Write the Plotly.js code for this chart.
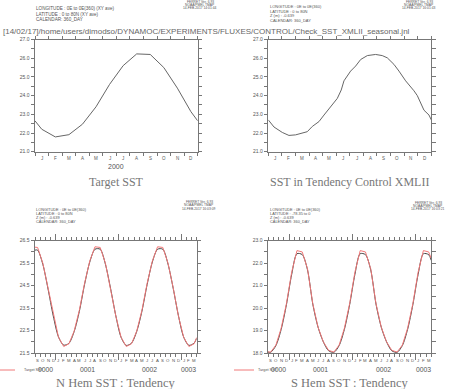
<!DOCTYPE html>
<html><head><meta charset="utf-8">
<script src="https://cdn.plot.ly/plotly-3.0.1.min.js"></script>
<style>html,body{margin:0;padding:0;background:#fff;overflow:hidden}</style>
</head><body><div id="chart" style="width:449px;height:389px"></div>
<script>
// ---------------- DATA ----------------
const topMonthLabels = ['J','F','M','A','M','J','J','A','S','O','N','D'];
const topMonthPos = [0.5,1.5,2.5,3.5,4.5,5.5,6.5,7.5,8.5,9.5,10.5,11.5];
const topYearLabel = '2000';

// Target SST (monthly, x in months from 1 Jan)
const targetX   = [0, 0.5, 1.5, 2.5, 3.5, 4.5, 5.5, 6.5, 7.5, 8.5, 9.5, 10.5, 11.5, 12];
const targetSST = [22.65, 22.2, 21.79, 21.91, 22.47, 23.4, 24.6, 25.6, 26.23, 26.2, 25.5, 24.4, 23.14, 22.65];

// SST in Tendency Control XMLII
const ctrlX   = [0, 0.42, 1.03, 1.52, 2.01, 2.55, 2.87, 3.24, 3.73, 4.10, 4.59, 5.08, 5.37, 5.57, 6.06, 6.43, 6.80, 7.29, 7.90, 8.39, 8.76, 9.25, 9.62, 10.11, 10.72, 10.97, 11.46, 11.83, 12];
const ctrlSST = [22.7, 22.32, 22.03, 21.87, 21.9, 22.0, 22.07, 22.35, 22.61, 22.96, 23.4, 23.85, 24.3, 24.79, 25.31, 25.58, 25.93, 26.14, 26.2, 26.14, 26.02, 25.67, 25.31, 24.79, 24.26, 24.0, 23.22, 22.96, 22.7];

// Bottom panels: months from 1 Sep 0000 (x = month centres, plus both edges)
const botMonthLabels = ['S','O','N','D','J','F','M','A','M','J','J','A','S','O','N','D','J','F','M','A','M','J','J','A','S','O','N','D','J','F','M'];
const botX = [0, 0.5,1.5,2.5,3.5,4.5,5.5,6.5,7.5,8.5,9.5,10.5,11.5,12.5,13.5,14.5,15.5,16.5,17.5,18.5,19.5,20.5,21.5,22.5,23.5,24.5,25.5,26.5,27.5,28.5,29.5,30.5, 31];
const botYearLabels = ['0000','0001','0002','0003'];
const botYearPos = [2, 10, 22, 29.5];

// N Hem
const nhTarget = [26.21, 26.2,25.5,24.4,23.14,22.2,21.79,21.91,22.47,23.4,24.6,25.6,26.23, 26.2,25.5,24.4,23.14,22.2,21.79,21.91,22.47,23.4,24.6,25.6,26.23, 26.2,25.5,24.4,23.14,22.2,21.79,21.91, 22.19];
const nhModel  = [26.08, 26.08,25.45,24.35,23.15,22.22,21.85,21.93,22.45,23.35,24.55,25.55,26.12, 26.12,25.45,24.36,23.15,22.2,21.84,21.94,22.46,23.36,24.55,25.55,26.12, 26.12,25.46,24.37,23.16,22.21,21.84,21.94, 22.15];
// S Hem
const shTarget = [18.05, 18.04,18.35,19.1,20.2,21.6,22.56,22.5,21.75,20.2,19.15,18.5,18.12, 18.04,18.35,19.1,20.2,21.6,22.56,22.5,21.75,20.2,19.15,18.5,18.12, 18.04,18.35,19.1,20.2,21.6,22.56,22.5, 22.2];
const shModel  = [18.04, 18.03,18.33,19.05,20.15,21.5,22.42,22.38,21.7,20.18,19.15,18.5,18.1, 18.03,18.33,19.05,20.15,21.5,22.42,22.38,21.7,20.18,19.15,18.5,18.1, 18.03,18.33,19.05,20.15,21.5,22.42,22.38, 22.12];

// Text
const pathHeader = '[14/02/17]/home/users/dimodso/DYNAMOC/EXPERIMENTS/FLUXES/CONTROL/Check_SST_XMLII_seasonal.jnl';
const hdrTL = ['LONGITUDE : 0E to 0E(360) (XY ave)','LATITUDE : 0 to 80N (XY ave)','CALENDAR: 360_DAY'];
const hdrTR = ['LONGITUDE : 0E to 0E(360)','LATITUDE : 0 to 80N','Z (m) : -0.639','CALENDAR: 360_DAY'];
const hdrBL = ['LONGITUDE : 0E to 0E(360)','LATITUDE : 0 to 80N','Z (m) : -0.639','CALENDAR: 360_DAY'];
const hdrBR = ['LONGITUDE : 0E to 0E(360)','LATITUDE : -78.35 to 0','Z (m) : -0.639','CALENDAR: 360_DAY'];
const ferretTL = ['FERRET Ver. 6.93','NOAA/PMEL TMAP','14-FEB-2017 14:01:44'];
const ferretTR = ['FERRET Ver. 6.93','NOAA/PMEL TMAP','14-FEB-2017 16:01:43'];
const ferretBL = ['FERRET Ver. 6.93','NOAA/PMEL TMAP','14-FEB-2017 16:03:09'];
const ferretBR = ['FERRET Ver. 6.93','NOAA/PMEL TMAP','14-FEB-2017 16:03:21'];
const titles = ['Target SST','SST in Tendency Control XMLII','N Hem SST : Tendency','S Hem SST : Tendency'];
const legendLabel = 'Target SST';

const topYTicks = [21,22,23,24,25,26,27];
const topYMinor = [21.5,22.5,23.5,24.5,25.5,26.5];
const nhYTicks = [21.5,22.5,23.5,24.5,25.5,26.5];
const nhYMinor = [22,23,24,25,26];
const shYTicks = [18,19,20,21,22,23];
const shYMinor = [18.5,19.5,20.5,21.5,22.5];

// ---------------- LAYOUT HELPERS ----------------
const W = 449, H = 389;
const px = v => v / W;
const py = v => 1 - v / H;
const AX = '#777', TXT = '#555';
const SANS = 'Liberation Sans, Arial, sans-serif';
const SERIF = 'Liberation Serif, Times New Roman, serif';

function yax(dom, range, majors, minors, anchor) {
  return {domain: dom, range: range, anchor: anchor, tickmode: 'array', tickvals: majors,
    ticktext: majors.map(v => v.toFixed(1)), ticks: 'outside', ticklen: 3.5, tickwidth: 1, tickcolor: AX,
    showline: true, linecolor: AX, linewidth: 1, mirror: 'ticks', showgrid: false, zeroline: false,
    tickfont: {size: 5, color: TXT, family: SANS},
    minor: {tickvals: minors, ticks: 'outside', ticklen: 3.5, tickcolor: AX, showgrid: false},
    fixedrange: true};
}
function xaxTop(dom, anchor) {
  return {domain: dom, range: [0, 12], anchor: anchor, tickmode: 'array',
    tickvals: [0,1,2,3,4,5,6,7,8,9,10,11,12], showticklabels: false, ticks: 'outside', ticklen: 3,
    tickcolor: AX, showline: true, linecolor: AX, linewidth: 1, mirror: 'ticks', showgrid: false,
    zeroline: false, fixedrange: true};
}
function xaxBot(dom, anchor) {
  const minors = []; for (let i = 0; i <= 31; i++) minors.push(i);
  return {domain: dom, range: [0, 31], anchor: anchor, tickmode: 'array', tickvals: [4, 16, 28],
    showticklabels: false, ticks: 'outside', ticklen: 6, tickcolor: AX, showline: true, linecolor: AX,
    linewidth: 1, mirror: 'ticks', showgrid: false, zeroline: false,
    minor: {tickvals: minors, ticks: 'outside', ticklen: 3, tickcolor: AX, showgrid: false},
    fixedrange: true};
}

const xTL = [px(35), px(197.7)], xTR = [px(268.3), px(431.3)];
const xBL = [px(35), px(196.7)], xBR = [px(268), px(431.3)];
const yTop = [py(151.7), py(39.5)], yBot = [py(353), py(240.7)];

// ---------------- TRACES ----------------
const traces = [
  {x: targetX, y: targetSST, xaxis: 'x', yaxis: 'y', mode: 'lines', line: {color: '#666', width: 1}, name: 'Target SST'},
  {x: ctrlX, y: ctrlSST, xaxis: 'x2', yaxis: 'y2', mode: 'lines', line: {color: '#666', width: 1}, name: 'SST ctrl'},
  {x: botX, y: nhModel, xaxis: 'x3', yaxis: 'y3', mode: 'lines', line: {color: '#444', width: 1, shape: 'spline', smoothing: 0.8}, name: 'NH model'},
  {x: botX, y: nhTarget, xaxis: 'x3', yaxis: 'y3', mode: 'lines', line: {color: '#f07878', width: 1}, name: legendLabel},
  {x: botX, y: shModel, xaxis: 'x4', yaxis: 'y4', mode: 'lines', line: {color: '#444', width: 1, shape: 'spline', smoothing: 0.8}, name: 'SH model'},
  {x: botX, y: shTarget, xaxis: 'x4', yaxis: 'y4', mode: 'lines', line: {color: '#f07878', width: 1}, name: legendLabel}
];

// ---------------- ANNOTATIONS ----------------
const ann = [];
function txt(text, x, y, size, opts) {
  ann.push(Object.assign({text: text, x: x, y: y, xref: 'paper', yref: 'paper', showarrow: false,
    xanchor: 'left', yanchor: 'middle', borderpad: 0,
    font: {size: size, color: TXT, family: SANS}}, opts || {}));
}
// big path header
txt(pathHeader, px(2), py(31.5), 8, {font: {size: 8, color: '#666', family: SANS}});
// panel headers
function header(lines, x0, y0, dy, size) {
  lines.forEach((l, i) => txt(l, px(x0), py(y0 + i * dy), size));
}
header(hdrTL, 35, 8.3, 5.8, 4.6);
header(hdrTR, 268.5, 7, 4.4, 4);
header(hdrBL, 35, 209.5, 3.9, 3.9);
header(hdrBR, 268.5, 209.5, 3.9, 3.9);
function ferret(lines, xc, y0, dy, size) {
  lines.forEach((l, i) => txt(l, px(xc), py(y0 + i * dy), size, {xanchor: 'center'}));
}
ferret(ferretTL, 200, 2, 3.2, 3.3);
ferret(ferretTR, 419, 2, 3.2, 3.3);
ferret(ferretBL, 199, 202, 3.3, 3.3);
ferret(ferretBR, 428, 202.5, 3.3, 3.3);

// month letters
topMonthLabels.forEach((m, i) => {
  ['x', 'x2'].forEach(xr => ann.push({text: m, x: topMonthPos[i], y: py(159), xref: xr, yref: 'paper',
    showarrow: false, xanchor: 'center', yanchor: 'middle', borderpad: 0,
    font: {size: 4.5, color: TXT, family: SANS}}));
});
ann.push({text: topYearLabel, x: 6, y: py(166.5), xref: 'x', yref: 'paper', showarrow: false,
  xanchor: 'center', yanchor: 'middle', borderpad: 0, font: {size: 7, color: TXT, family: SANS}});
botMonthLabels.forEach((m, i) => {
  ['x3', 'x4'].forEach(xr => ann.push({text: m, x: botX[i + 1], y: py(360), xref: xr, yref: 'paper',
    showarrow: false, xanchor: 'center', yanchor: 'middle', borderpad: 0,
    font: {size: 4.3, color: TXT, family: SANS}}));
});
botYearLabels.forEach((yl, i) => {
  ['x3', 'x4'].forEach(xr => ann.push({text: yl, x: botYearPos[i], y: py(369), xref: xr, yref: 'paper',
    showarrow: false, xanchor: 'center', yanchor: 'middle', borderpad: 0,
    font: {size: 6.8, color: TXT, family: SANS}}));
});
// titles
const titlePos = [[116.3, 182], [349.8, 182], [116, 383], [349.7, 383]];
titles.forEach((t, i) => txt(t, px(titlePos[i][0]), py(titlePos[i][1]), i < 2 ? 12 : 12.5,
  {xanchor: 'center', font: {size: i < 2 ? 12 : 12.5, color: '#777', family: SERIF}}));
// legend labels
txt(legendLabel, px(23), py(370), 3.8);
txt(legendLabel, px(257), py(370), 3.8);

const shapes = [
  {type: 'line', xref: 'paper', yref: 'paper', x0: px(0), x1: px(15), y0: py(370), y1: py(370), line: {color: '#f07878', width: 1}},
  {type: 'line', xref: 'paper', yref: 'paper', x0: px(234), x1: px(254), y0: py(370), y1: py(370), line: {color: '#f07878', width: 1}}
];

const layout = {
  width: W, height: H, margin: {l: 0, r: 0, t: 0, b: 0}, showlegend: false,
  paper_bgcolor: '#fff', plot_bgcolor: '#fff',
  xaxis: xaxTop(xTL, 'y'), yaxis: yax(yTop, [21, 27], topYTicks, topYMinor, 'x'),
  xaxis2: xaxTop(xTR, 'y2'), yaxis2: yax(yTop, [21, 27], topYTicks, topYMinor, 'x2'),
  xaxis3: xaxBot(xBL, 'y3'), yaxis3: yax(yBot, [21.5, 26.5], nhYTicks, nhYMinor, 'x3'),
  xaxis4: xaxBot(xBR, 'y4'), yaxis4: yax(yBot, [18, 23], shYTicks, shYMinor, 'x4'),
  annotations: ann, shapes: shapes
};
Plotly.newPlot('chart', traces, layout, {staticPlot: true, displayModeBar: false});
</script></body></html>
